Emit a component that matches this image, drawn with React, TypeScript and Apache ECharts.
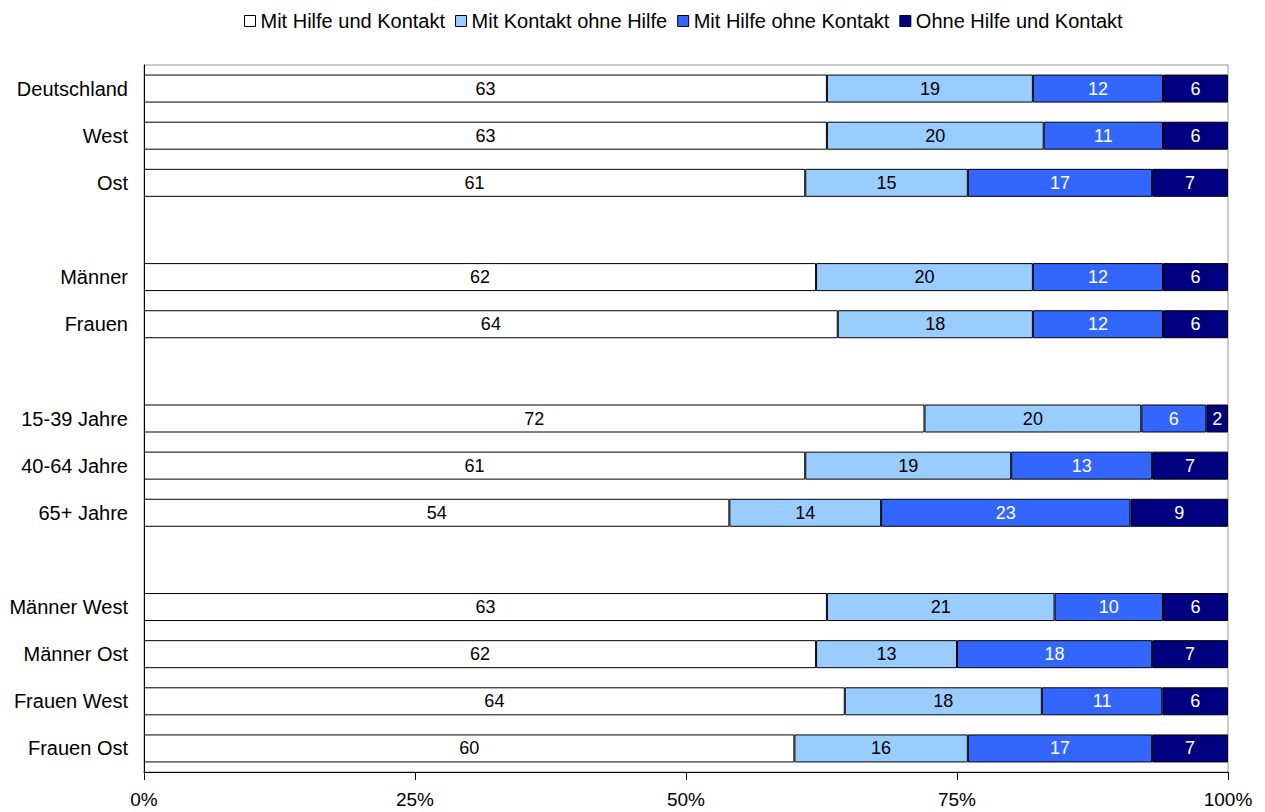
import React, { useEffect, useRef } from "react";
import * as echarts from "echarts";

const categories = [
  "Deutschland", "West", "Ost", " ",
  "Männer", "Frauen", "  ",
  "15-39 Jahre", "40-64 Jahre", "65+ Jahre", "   ",
  "Männer West", "Männer Ost", "Frauen West", "Frauen Ost",
];

const seriesNames = [
  "Mit Hilfe und Kontakt",
  "Mit Kontakt ohne Hilfe",
  "Mit Hilfe ohne Kontakt",
  "Ohne Hilfe und Kontakt",
];

const mitHilfeUndKontakt = [63, 63, 61, null, 62, 64, null, 72, 61, 54, null, 63, 62, 64, 60];
const mitKontaktOhneHilfe = [19, 20, 15, null, 20, 18, null, 20, 19, 14, null, 21, 13, 18, 16];
const mitHilfeOhneKontakt = [12, 11, 17, null, 12, 12, null, 6, 13, 23, null, 10, 18, 11, 17];
const ohneHilfeUndKontakt = [6, 6, 7, null, 6, 6, null, 2, 7, 9, null, 6, 7, 6, 7];

const xTicks = ["0%", "25%", "50%", "75%", "100%"];

const colors = ["#FFFFFF", "#99CCFF", "#3366FF", "#000080"];
const labelColors = ["#000000", "#000000", "#FFFFFF", "#FFFFFF"];

export default function App() {
  const ref = useRef<HTMLDivElement>(null);
  useEffect(() => {
    if (!ref.current) return;
    const chart = echarts.init(ref.current, undefined, { renderer: "svg" });
    const raw = [mitHilfeUndKontakt, mitKontaktOhneHilfe, mitHilfeOhneKontakt, ohneHilfeUndKontakt];
    const totals = categories.map((_, i) =>
      raw.reduce((s, arr) => s + (arr[i] == null ? 0 : (arr[i] as number)), 0)
    );
    const font = "Liberation Sans, Arial, sans-serif";
    chart.setOption({
      animation: false,
      textStyle: { fontFamily: font },
      legend: {
        top: 6,
        left: 239,
        itemWidth: 11,
        itemHeight: 11,
        itemGap: 10,
        icon: "rect",
        textStyle: { fontSize: 20, color: "#000", fontFamily: font },
        data: seriesNames.map((n, k) => ({
          name: n,
          itemStyle: { color: colors[k], borderColor: "#000", borderWidth: 1 },
        })),
      },
      grid: {
        left: 144,
        right: 37,
        top: 65,
        bottom: 40,
        show: true,
        borderColor: "#999",
        borderWidth: 1,
      },
      xAxis: {
        type: "value",
        min: 0,
        max: 100,
        interval: 25,
        axisLine: { show: true, lineStyle: { color: "#000", width: 1 } },
        axisTick: { show: true, length: 8, lineStyle: { color: "#000" } },
        splitLine: { show: false },
        axisLabel: {
          margin: 18,
          fontSize: 19,
          color: "#000",
          fontFamily: font,
          formatter: (v: number) => xTicks[Math.round(v / 25)],
        },
      },
      yAxis: {
        type: "category",
        inverse: true,
        data: categories,
        axisLine: { show: true, lineStyle: { color: "#000", width: 1 } },
        axisTick: { show: false },
        axisLabel: { fontSize: 20, color: "#000", margin: 16, fontFamily: font },
      },
      series: raw.map((arr, k) => ({
        name: seriesNames[k],
        type: "bar",
        stack: "total",
        barWidth: 28,
        itemStyle: { color: colors[k], borderColor: "#000", borderWidth: 1 },
        label: {
          show: true,
          position: "inside",
          color: labelColors[k],
          fontSize: 18,
          fontFamily: font,
          formatter: (p: any) => (p.data && p.data.raw != null ? String(p.data.raw) : ""),
        },
        data: arr.map((v, i) =>
          v == null ? "-" : { value: (v / totals[i]) * 100, raw: v }
        ),
      })),
    });
    return () => chart.dispose();
  }, []);
  return <div ref={ref} style={{ width: 1265, height: 812, position: "absolute", left: 0, top: 0 }} />;
}
